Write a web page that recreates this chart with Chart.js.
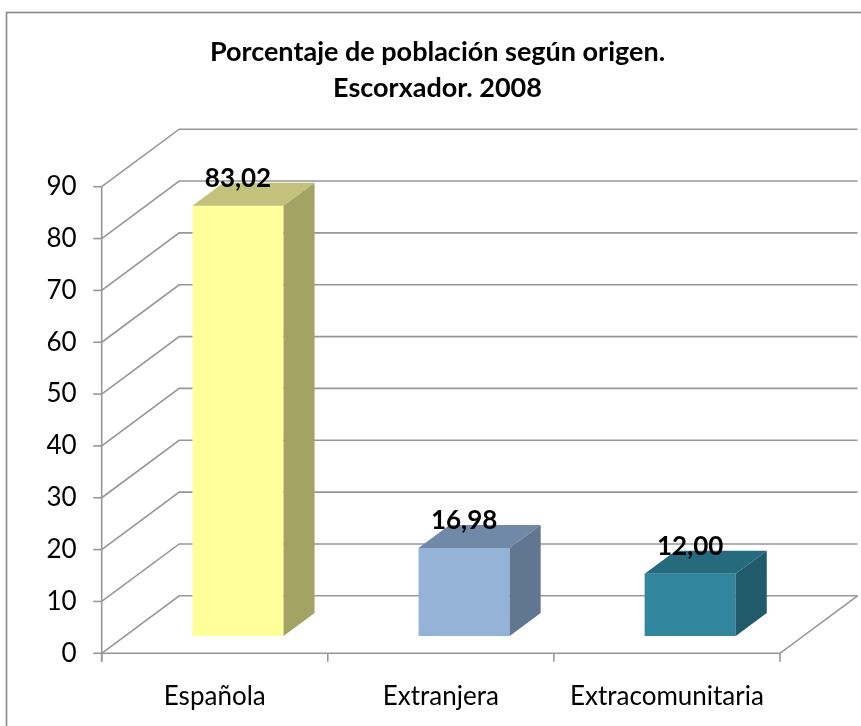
<!DOCTYPE html>
<html>
<head>
<meta charset="utf-8">
<script src="https://cdn.jsdelivr.net/npm/chart.js@4/dist/chart.umd.min.js"></script>
<style>
  html, body { margin: 0; padding: 0; background: #ffffff; }
  #wrap { width: 861px; height: 726px; position: relative; }
</style>
</head>
<body>
<div id="wrap"><canvas id="c"></canvas></div>
<script>
// ---- data ----
const titleLines = ['Porcentaje de población según origen.', 'Escorxador. 2008'];
const categories = ['Española', 'Extranjera', 'Extracomunitaria'];
const values = [83.02, 16.98, 12.00];
const valueLabels = ['83,02', '16,98', '12,00'];
const yMin = 0, yMax = 90, yStep = 10;

// ---- styles ----
const frontColors = ['#FFFF99', '#95B3D7', '#31859C'];
const topColors   = ['#C2C27C', '#7089A8', '#266A7D'];
const sideColors  = ['#A3A364', '#607691', '#215A69'];
const FONT = 'Lato, "Open Sans", sans-serif';
const GRID = '#979797';
const DX = 77.5, DY = -57.5;      // depth of the 3D box
const F1 = 0.30, F2 = 0.70;       // bar front/back depth fractions

const threeD = {
  id: 'threeD',
  beforeDraw(chart) {
    const ctx = chart.ctx;
    ctx.save();
    ctx.strokeStyle = '#878787';
    ctx.lineWidth = 1.6;
    ctx.strokeRect(6.5, 12.5, 1000, 1000);
    ctx.restore();
  },
  beforeDatasetsDraw(chart) {
    const ctx = chart.ctx, ys = chart.scales.y;
    const a = chart.chartArea;
    ctx.save();
    ctx.strokeStyle = GRID;
    ctx.lineWidth = 1.6;
    ctx.lineCap = 'butt';
    ys.ticks.forEach(t => {
      const py = ys.getPixelForValue(t.value);
      ctx.beginPath();
      ctx.moveTo(a.left, py);
      ctx.lineTo(a.left + DX, py + DY);
      ctx.lineTo(a.right + DX, py + DY);
      ctx.stroke();
      ctx.beginPath();
      ctx.moveTo(a.left - 8.5, py);
      ctx.lineTo(a.left, py);
      ctx.stroke();
    });
    ctx.beginPath();
    ctx.moveTo(a.left, ys.getPixelForValue(yMax));
    ctx.lineTo(a.left, a.bottom + 8.5);
    ctx.stroke();
    ctx.beginPath();
    ctx.moveTo(a.left, a.bottom);
    ctx.lineTo(a.right, a.bottom);
    ctx.lineTo(a.right + DX, a.bottom + DY);
    ctx.stroke();
    const n = categories.length;
    for (let i = 0; i <= n; i++) {
      const x = a.left + (a.right - a.left) * i / n;
      ctx.beginPath();
      ctx.moveTo(x, a.bottom);
      ctx.lineTo(x, a.bottom + 8.5);
      ctx.stroke();
    }
    ctx.restore();
  },
  afterDatasetsDraw(chart) {
    const ctx = chart.ctx, ys = chart.scales.y;
    const meta = chart.getDatasetMeta(0);
    const ox = F1 * DX, oy = F1 * DY;
    const dx = (F2 - F1) * DX, dy = (F2 - F1) * DY;
    ctx.save();
    meta.data.forEach((bar, i) => {
      const x0 = bar.x - bar.width / 2 + ox;
      const x1 = bar.x + bar.width / 2 + ox;
      const yt = ys.getPixelForValue(values[i]) + oy;
      const yb = ys.getPixelForValue(0) + oy;
      ctx.fillStyle = frontColors[i];
      ctx.fillRect(x0, yt, x1 - x0, yb - yt);
      ctx.fillStyle = topColors[i];
      ctx.beginPath();
      ctx.moveTo(x0, yt); ctx.lineTo(x1, yt);
      ctx.lineTo(x1 + dx, yt + dy); ctx.lineTo(x0 + dx, yt + dy);
      ctx.closePath(); ctx.fill();
      ctx.fillStyle = sideColors[i];
      ctx.beginPath();
      ctx.moveTo(x1, yt); ctx.lineTo(x1 + dx, yt + dy);
      ctx.lineTo(x1 + dx, yb + dy); ctx.lineTo(x1, yb);
      ctx.closePath(); ctx.fill();
      ctx.fillStyle = '#000000';
      ctx.font = 'bold 26px ' + FONT;
      ctx.textAlign = 'center';
      ctx.textBaseline = 'middle';
      ctx.fillText(valueLabels[i], (x0 + x1) / 2, yt - 27);
    });
    ctx.restore();
  }
};

new Chart(document.getElementById('c'), {
  type: 'bar',
  data: {
    labels: categories,
    datasets: [{
      data: values,
      backgroundColor: 'rgba(0,0,0,0)',
      borderWidth: 0,
      barPercentage: 0.403,
      categoryPercentage: 1.0,
      yAxisID: 'y'
    }]
  },
  options: {
    responsive: true,
    maintainAspectRatio: false,
    devicePixelRatio: 1,
    animation: false,
    layout: { padding: { left: 14, right: 0, top: 0, bottom: 0 } },
    plugins: {
      legend: { display: false },
      tooltip: { enabled: false },
      title: {
        display: true,
        text: titleLines,
        color: '#000000',
        font: { family: FONT, size: 27, weight: 'bold', lineHeight: 36 / 27 },
        padding: { top: 34, bottom: 80.7 }
      }
    },
    scales: {
      x: {
        grid: { display: false, drawTicks: false },
        border: { display: false },
        ticks: { color: '#000000', font: { family: FONT, size: 26 }, padding: 28, maxRotation: 0 },
        afterFit(s) { s.height = 726 - 653.3; }
      },
      y: {
        min: yMin, max: yMax,
        grid: { display: false, drawTicks: false },
        border: { display: false },
        ticks: { stepSize: yStep, color: '#000000', font: { family: FONT, size: 26 }, padding: 25 },
        afterFit(s) { s.width = 87.7; }
      },
      yRight: {
        position: 'right',
        min: yMin, max: yMax,
        grid: { display: false, drawTicks: false },
        border: { display: false },
        ticks: { display: false },
        afterFit(s) { s.width = 81; }
      }
    }
  },
  plugins: [threeD]
});
</script>
</body>
</html>
